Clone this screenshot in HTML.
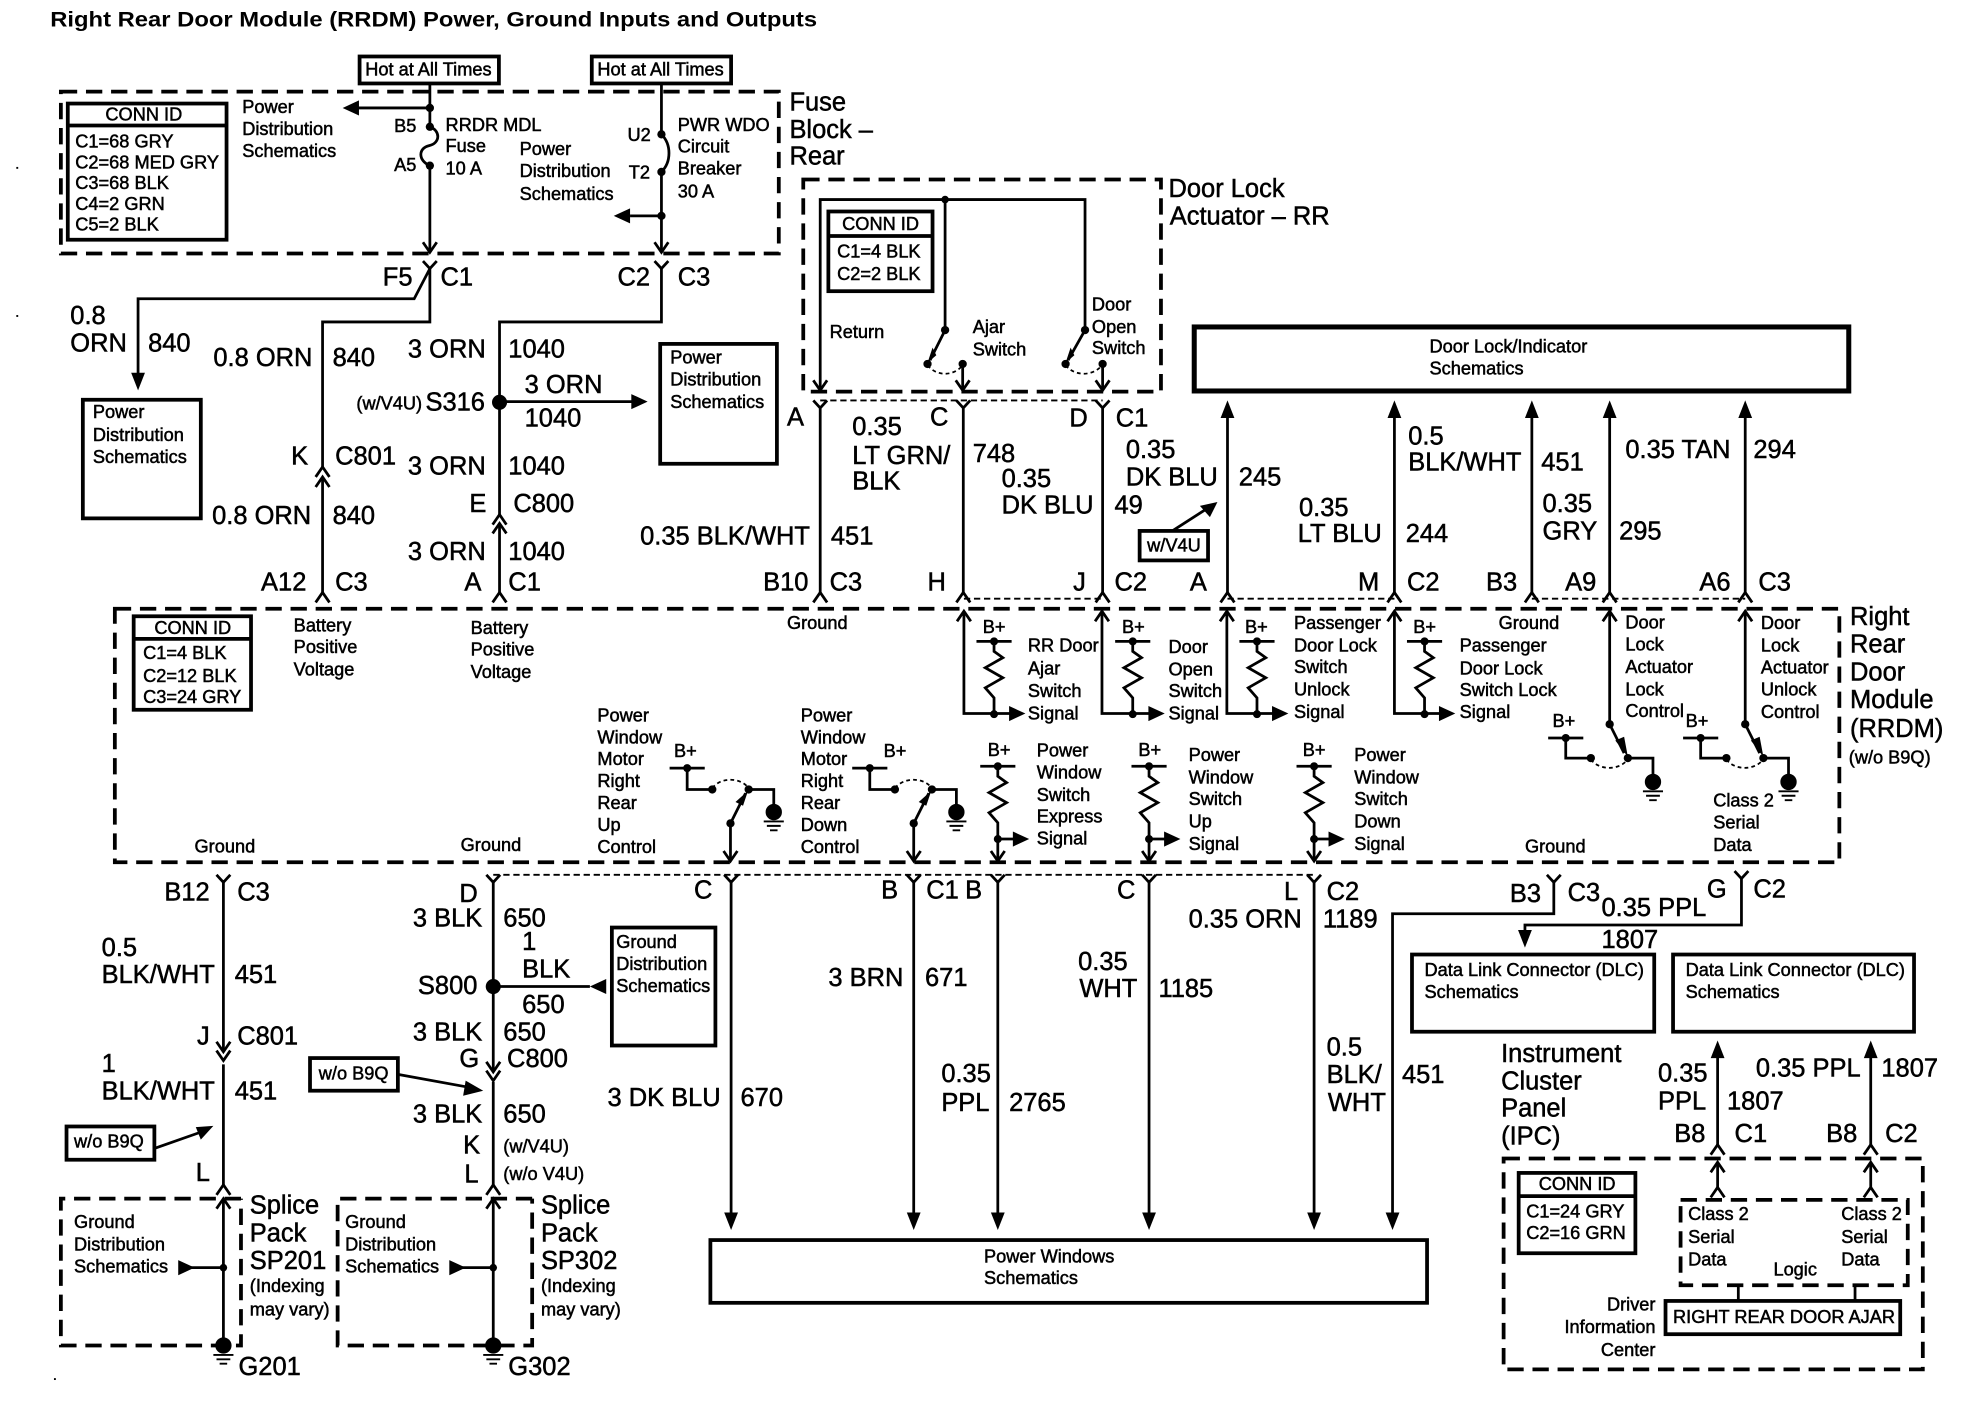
<!DOCTYPE html>
<html><head><meta charset="utf-8"><title>RRDM Power, Ground Inputs and Outputs</title>
<style>
html,body{margin:0;padding:0;background:#fff}
svg{display:block}
text{font-family:"Liberation Sans",sans-serif;fill:#000;stroke:#000;stroke-width:.4}
.s text,text.s{font-size:14.5px}
.b text,text.b{font-size:20.3px}
.w{fill:none;stroke:#000;stroke-width:2.2}
.d{fill:none;stroke:#000;stroke-width:3;stroke-dasharray:13 7}
.t{fill:none;stroke:#000;stroke-width:1.5;stroke-dasharray:5 3}
.q{fill:none;stroke:#000;stroke-width:1.4;stroke-dasharray:3 2.5}
.k{fill:#fff;stroke:#000;stroke-width:3}
</style></head><body>
<svg xmlns="http://www.w3.org/2000/svg" width="1968" height="1408" viewBox="0 0 1568 1121.8" preserveAspectRatio="none">
<defs>
<path id="fd" d="M0 0L-5.5 -14H5.5Z"/>
<path id="fu" d="M0 0L-5.5 14H5.5Z"/>
<path id="fr" d="M0 0L-13 -6V6Z"/>
<path id="fl" d="M0 0L13 -6V6Z"/>
<path id="od" class="w" d="M-5.5 -8L0 0L5.5 -8"/>
<path id="ou" class="w" d="M-5.5 8L0 0L5.5 8"/>
<g id="gnd"><circle r="6.5"/><path class="w" style="stroke-width:1.5" d="M-8 7.5H8M-5.5 11H5.5M-3 14.5H3"/></g>
<g id="res"><path class="w" d="M0 0V8L7 13L-7 21L7 29L-7 37L0 45V58"/><circle r="3.2"/><circle cy="58" r="3.2"/></g>
<path id="bar" class="w" d="M-14 0H14"/>
</defs>

<rect width="1568" height="1121.8" fill="#fff"/>

<!-- dashed enclosures -->
<rect class="d" x="48.5" y="73" width="572" height="129"/>
<rect class="d" x="640" y="143" width="285" height="169"/>
<rect class="d" x="91.5" y="485" width="1374" height="202"/>
<path class="d" d="M192 955H48.5V1072H192V955"/>
<path class="d" d="M424 955H269V1072H424V955"/>
<rect class="d" x="1198" y="923" width="334" height="168"/>
<rect class="d" x="1339" y="956" width="181" height="68"/>

<!-- thin connector shells -->
<path class="t" d="M653.5 319H878.5M768 477H878M978 477H1111M1220.5 477H1390.5M393 697H1047"/>

<!-- solid boxes -->
<rect class="k" x="286.5" y="45" width="111" height="21.5"/>
<rect class="k" x="471.5" y="45" width="111" height="21.5"/>
<rect class="k" x="54" y="82.5" width="126.5" height="108.5"/>
<path class="w" style="stroke-width:3" d="M54 100H180"/>
<rect class="k" x="660" y="168.5" width="83" height="63.5"/>
<path class="w" style="stroke-width:3" d="M660 188H743"/>
<rect class="k" x="66" y="318.5" width="94" height="94.5"/>
<rect class="k" x="526" y="274" width="93" height="95.5"/>
<rect class="k" style="stroke-width:4" x="951.5" y="260.5" width="521.5" height="51"/>
<rect class="k" x="908" y="423" width="54.5" height="23.5"/>
<rect class="k" x="106.5" y="491" width="93.5" height="74.5"/>
<path class="w" style="stroke-width:3" d="M106 509H200"/>
<rect class="k" x="487.5" y="739" width="82.5" height="94"/>
<rect class="k" x="53" y="897.5" width="70" height="26.5"/>
<rect class="k" x="247" y="843" width="70" height="26"/>
<rect class="k" x="566" y="988" width="571" height="50"/>
<rect class="k" x="1125" y="760.5" width="193" height="61.5"/>
<rect class="k" x="1333" y="760.5" width="192" height="61.5"/>
<rect class="k" x="1210" y="934.5" width="93" height="64"/>
<path class="w" style="stroke-width:3" d="M1210 953H1303"/>
<rect class="k" x="1327" y="1036.5" width="187" height="26.5"/>

<!-- wires: top section -->
<path class="w" d="M342.5 66V101C351 104 351 114 342 116C333 118 333 128 342.5 132V200M342.5 86H285"/>
<path class="w" d="M527 66V107C535 115 535 129 527 137V200M527 172H502"/>
<path class="w" d="M342.5 214V256.5H257V373M342.5 214L330 238H110V298"/>
<path class="w" d="M527 214V256.5H398V411M398 320H504"/>
<path class="w" d="M257 381V472M398 417V472"/>
<use href="#fl" x="273" y="86"/><use href="#fl" x="489" y="172"/>
<use href="#od" x="342.5" y="201"/><use href="#od" x="527" y="201"/>
<path class="w" d="M337 208L342.5 214L348 208"/>
<path class="w" d="M521.5 208L527 214L532.5 208"/>
<use href="#fd" x="110" y="311"/><use href="#fr" x="516" y="320"/>
<circle cx="398" cy="320.5" r="6"/>
<circle cx="342.5" cy="86" r="3.3"/><circle cx="342.5" cy="101" r="3.3"/><circle cx="342.5" cy="132" r="3.3"/>
<circle cx="527" cy="107" r="3.3"/><circle cx="527" cy="137" r="3.3"/><circle cx="527" cy="172" r="3.3"/>
<use href="#ou" x="257" y="372"/><use href="#ou" x="257" y="380"/><use href="#ou" x="398" y="410"/><use href="#ou" x="398" y="417"/>

<!-- door lock actuator -->
<path class="w" d="M653.5 310V159H864.5V263M753 159V263M753 263L741 287M864.5 263L851 287M767 290V311M878.5 290V311"/>
<circle cx="753" cy="159" r="3"/><circle cx="753" cy="263" r="3.3"/><circle cx="864.5" cy="263" r="3.3"/>
<circle cx="739" cy="290" r="3.3"/><circle cx="767" cy="290" r="3.3"/><circle cx="849" cy="290" r="3.3"/><circle cx="878.5" cy="290" r="3.3"/>
<path d="M739 289L743 277L746 283Z"/><path d="M849 289L853 277L856 283Z"/>
<path class="q" d="M739 291C746 300 760 300 767 291M849 291C856 300 871 300 878 291"/>
<use href="#od" x="653.5" y="311"/><use href="#od" x="767" y="311"/><use href="#od" x="878.5" y="311"/>
<path class="w" d="M648 319L653.5 325L659 319M762 319L767.5 325L773 319M873 319L878.5 325L884 319M653.5 325V472M767.5 325V472M878.5 325V472"/>

<!-- up arrows to door lock/indicator -->
<path class="w" d="M978 330V472M1111 330V472M1220.5 330V472M1282.5 330V472M1390.5 330V472"/>
<use href="#fu" x="978" y="319"/><use href="#fu" x="1111" y="319"/><use href="#fu" x="1220.5" y="319"/><use href="#fu" x="1282.5" y="319"/><use href="#fu" x="1390.5" y="319"/>
<use href="#ou" x="257" y="472"/><use href="#ou" x="398" y="472"/><use href="#ou" x="653.5" y="472"/><use href="#ou" x="767.5" y="472"/><use href="#ou" x="878.5" y="472"/><use href="#ou" x="978" y="472"/><use href="#ou" x="1111" y="472"/><use href="#ou" x="1220.5" y="472"/><use href="#ou" x="1282.5" y="472"/><use href="#ou" x="1390.5" y="472"/>
<path class="w" d="M934 423L962 405"/><path d="M970 400L956 403L964 412Z"/>

<!-- RRDM internals: pull-ups -->
<path class="w" d="M768 487V568.5H805M878 487V568.5H916M977.5 487V568.5H1015M1111 487V568.5H1148"/>
<use href="#ou" x="768" y="487"/><use href="#ou" x="878" y="487"/><use href="#ou" x="977.5" y="487"/><use href="#ou" x="1111" y="487"/>
<use href="#fr" x="817" y="568.5"/><use href="#fr" x="928" y="568.5"/><use href="#fr" x="1026.5" y="568.5"/><use href="#fr" x="1159.5" y="568.5"/>
<use href="#bar" x="792" y="511"/><use href="#res" x="792" y="511"/>
<use href="#bar" x="902.5" y="511"/><use href="#res" x="902.5" y="511"/>
<use href="#bar" x="1001.5" y="511"/><use href="#res" x="1001.5" y="511"/>
<use href="#bar" x="1135" y="511"/><use href="#res" x="1135" y="511"/>

<use href="#bar" x="795" y="610.5"/><use href="#res" x="795" y="610.5"/>
<use href="#bar" x="915.5" y="610.5"/><use href="#res" x="915.5" y="610.5"/>
<use href="#bar" x="1047" y="610.5"/><use href="#res" x="1047" y="610.5"/>
<path class="w" d="M795 668.5V686M915.5 668.5V686M915.5 668.5H929M1047 668.5V686M1047 668.5H1060M795 668.5H808"/>
<use href="#fr" x="820" y="668.5"/><use href="#fr" x="940.5" y="668.5"/><use href="#fr" x="1071.5" y="668.5"/>

<!-- window motor switches -->
<use href="#bar" x="547.5" y="612"/><circle cx="547.5" cy="612" r="3.2"/>
<path class="w" d="M547.5 612V629H567.5M596.5 629H616.5V645M582 656L594 632M582 656V686"/>
<circle cx="567.5" cy="629" r="3.3"/><circle cx="596.5" cy="629" r="3.3"/><circle cx="582" cy="656" r="3.3"/>
<path d="M596 630L586 639L592 642Z"/>
<path class="q" d="M567.5 628C574 619 590 619 596.5 628"/>
<use href="#gnd" x="616.5" y="647"/><use href="#od" x="582" y="686"/>
<use href="#bar" x="693" y="612"/><circle cx="693" cy="612" r="3.2"/>
<path class="w" d="M693 612V629H713M742.5 629H762V645M728 656L740 632M728 656V686"/>
<circle cx="713" cy="629" r="3.3"/><circle cx="742.5" cy="629" r="3.3"/><circle cx="728" cy="656" r="3.3"/>
<path d="M742 630L732 639L738 642Z"/>
<path class="q" d="M713 628C720 619 736 619 742.5 628"/>
<use href="#gnd" x="762" y="647"/><use href="#od" x="728" y="686"/>
<use href="#od" x="795" y="686"/><use href="#od" x="915.5" y="686"/><use href="#od" x="1047" y="686"/>

<!-- door lock actuator control switches -->
<path class="w" d="M1282.5 487V577L1294 600M1390.5 487V577L1402 600"/>
<use href="#ou" x="1282.5" y="487"/><use href="#ou" x="1390.5" y="487"/>
<circle cx="1282.5" cy="577" r="3.3"/><circle cx="1390.5" cy="577" r="3.3"/>
<path d="M1297 603L1287 590L1294 587Z"/><path d="M1405 603L1395 590L1402 587Z"/>
<use href="#bar" x="1247.5" y="588"/><circle cx="1247.5" cy="588" r="3.2"/>
<path class="w" d="M1247.5 588V604H1267.5M1297 604H1317V620"/>
<circle cx="1267.5" cy="604" r="3.3"/><circle cx="1297" cy="604" r="3.3"/>
<path class="q" d="M1267.5 605C1274 614 1290 614 1297 605"/>
<use href="#gnd" x="1317" y="623"/>
<use href="#bar" x="1355" y="588"/><circle cx="1355" cy="588" r="3.2"/>
<path class="w" d="M1355 588V604H1375.5M1405 604H1425V620"/>
<circle cx="1375.5" cy="604" r="3.3"/><circle cx="1405" cy="604" r="3.3"/>
<path class="q" d="M1375.5 605C1382 614 1398 614 1405 605"/>
<use href="#gnd" x="1425" y="623"/>

<!-- lower wires -->
<path class="w" d="M172.5 697L178 703L183.5 697M387.5 697L393 703L398.5 697M577 697L582.5 703L588 697M722.5 697L728 703L733.5 697M789.5 697L795 703L800.5 697M910 697L915.5 703L921 697M1041.5 697L1047 703L1052.5 697M1232.5 697L1238 703L1243.5 697M1382 694L1387.5 700L1393 694"/>
<path class="w" d="M178 703V838M178 848V944M178 955V1072M152 1010H178"/>
<path class="w" d="M393 703V853M393 862V945M393 955V1072M368 1010H393M393 786H470"/>
<path class="w" d="M582.5 703V968M728 703V968M795 703V968M915.5 703V968M1047 703V968"/>
<path class="w" d="M1238 703V728H1109.5V968M1387.5 700V737H1215V742"/>
<path class="w" d="M1368.5 840V912M1490.5 840V912M1368.5 926V947M1490.5 926V947M1385 1024V1036M1478 1024V1036"/>
<use href="#od" x="178" y="838"/><use href="#od" x="178" y="845"/><use href="#od" x="393" y="854"/><use href="#od" x="393" y="861"/>
<use href="#ou" x="178" y="944"/><use href="#ou" x="393" y="944"/><use href="#ou" x="178" y="955"/><use href="#ou" x="393" y="955"/>
<circle cx="393" cy="786" r="6"/><circle cx="178" cy="1010" r="3"/><circle cx="393" cy="1010" r="3"/>
<use href="#fl" x="470" y="786"/>
<use href="#fr" x="155" y="1010"/><use href="#fr" x="371" y="1010"/>
<use href="#gnd" x="178" y="1072"/><use href="#gnd" x="393" y="1072"/>
<use href="#fd" x="582.5" y="980"/><use href="#fd" x="728" y="980"/><use href="#fd" x="795" y="980"/><use href="#fd" x="915.5" y="980"/><use href="#fd" x="1047" y="980"/><use href="#fd" x="1109.5" y="980"/>
<use href="#fd" x="1215" y="755"/>
<use href="#fu" x="1368.5" y="829"/><use href="#fu" x="1490.5" y="829"/>
<use href="#ou" x="1368.5" y="912"/><use href="#ou" x="1490.5" y="912"/>
<use href="#ou" x="1368.5" y="926"/><use href="#ou" x="1490.5" y="926"/>
<use href="#ou" x="1368.5" y="946"/><use href="#ou" x="1490.5" y="946"/>
<path class="w" d="M123 915L160 902"/><path d="M170 897L156 898L160 908Z"/>
<path class="w" d="M317 856L372 866"/><path d="M385 869L371 861L369 873Z"/>
<rect x="13" y="133" width="1.5" height="1.5"/><rect x="13" y="251" width="1.5" height="1.5"/><rect x="43" y="1098" width="1.5" height="1.5"/>

<!-- title -->
<text x="40" y="21" font-size="17" font-weight="bold" textLength="611" lengthAdjust="spacingAndGlyphs" style="stroke:none">Right Rear Door Module (RRDM) Power, Ground Inputs and Outputs</text>

<!-- small text -->
<g class="s" transform="translate(0 -.8)">
<text x="291" y="61">Hot at All Times</text><text x="476" y="61">Hot at All Times</text>
<text x="84" y="97">CONN ID</text>
<text x="60" y="118.5">C1=68 GRY</text><text x="60" y="135">C2=68 MED GRY</text><text x="60" y="151.5">C3=68 BLK</text><text x="60" y="168">C4=2 GRN</text><text x="60" y="184.5">C5=2 BLK</text>
<text><tspan x="193" y="91">Power</tspan><tspan x="193" y="108.5">Distribution</tspan><tspan x="193" y="126">Schematics</tspan></text>
<text x="314" y="106">B5</text><text x="314" y="137">A5</text>
<text><tspan x="355" y="105">RRDR MDL</tspan><tspan x="355" y="122">Fuse</tspan><tspan x="355" y="140">10 A</tspan></text>
<text><tspan x="414" y="124.5">Power</tspan><tspan x="414" y="142">Distribution</tspan><tspan x="414" y="160">Schematics</tspan></text>
<text x="500" y="113">U2</text><text x="501" y="143">T2</text>
<text><tspan x="540" y="105">PWR WDO</tspan><tspan x="540" y="122.5">Circuit</tspan><tspan x="540" y="140">Breaker</tspan><tspan x="540" y="158">30 A</tspan></text>
<text x="671" y="184">CONN ID</text><text x="667" y="206">C1=4 BLK</text><text x="667" y="224">C2=2 BLK</text>
<text x="661" y="270">Return</text>
<text><tspan x="775" y="266">Ajar</tspan><tspan x="775" y="284">Switch</tspan></text>
<text><tspan x="870" y="248">Door</tspan><tspan x="870" y="266">Open</tspan><tspan x="870" y="283">Switch</tspan></text>
<text><tspan x="1139" y="281.5">Door Lock/Indicator</tspan><tspan x="1139" y="299">Schematics</tspan></text>
<text><tspan x="74" y="334">Power</tspan><tspan x="74" y="352">Distribution</tspan><tspan x="74" y="369.5">Schematics</tspan></text>
<text><tspan x="534" y="290.6">Power</tspan><tspan x="534" y="308">Distribution</tspan><tspan x="534" y="326">Schematics</tspan></text>
<text x="284" y="327">(w/V4U)</text>
<text x="914" y="440">w/V4U</text>
<text x="123" y="506">CONN ID</text><text x="114" y="526">C1=4 BLK</text><text x="114" y="544">C2=12 BLK</text><text x="114" y="561">C3=24 GRY</text>
<text><tspan x="234" y="504">Battery</tspan><tspan x="234" y="521">Positive</tspan><tspan x="234" y="539">Voltage</tspan></text>
<text><tspan x="375" y="506">Battery</tspan><tspan x="375" y="523">Positive</tspan><tspan x="375" y="541">Voltage</tspan></text>
<text x="627" y="502">Ground</text>
<text><tspan x="476" y="575.5">Power</tspan><tspan x="476" y="593">Window</tspan><tspan x="476" y="610.5">Motor</tspan><tspan x="476" y="628">Right</tspan><tspan x="476" y="645.5">Rear</tspan><tspan x="476" y="663">Up</tspan><tspan x="476" y="680.5">Control</tspan></text>
<text><tspan x="638" y="575.5">Power</tspan><tspan x="638" y="593">Window</tspan><tspan x="638" y="610.5">Motor</tspan><tspan x="638" y="628">Right</tspan><tspan x="638" y="645.5">Rear</tspan><tspan x="638" y="663">Down</tspan><tspan x="638" y="680.5">Control</tspan></text>
<text x="155" y="680">Ground</text><text x="367" y="679">Ground</text><text x="1215" y="680">Ground</text>
<text x="537" y="604">B+</text><text x="704" y="604">B+</text>
<text x="783" y="505">B+</text><text x="894" y="505">B+</text><text x="992" y="505">B+</text><text x="1126" y="505">B+</text>
<text x="787" y="603">B+</text><text x="907" y="603">B+</text><text x="1038" y="603">B+</text>
<text x="1237" y="580">B+</text><text x="1343" y="580">B+</text>
<text><tspan x="819" y="520">RR Door</tspan><tspan x="819" y="538">Ajar</tspan><tspan x="819" y="556">Switch</tspan><tspan x="819" y="574">Signal</tspan></text>
<text><tspan x="931" y="521">Door</tspan><tspan x="931" y="539">Open</tspan><tspan x="931" y="556">Switch</tspan><tspan x="931" y="574">Signal</tspan></text>
<text><tspan x="1031" y="502">Passenger</tspan><tspan x="1031" y="520">Door Lock</tspan><tspan x="1031" y="537">Switch</tspan><tspan x="1031" y="555">Unlock</tspan><tspan x="1031" y="573">Signal</tspan></text>
<text x="1194" y="502">Ground</text>
<text><tspan x="1163" y="520">Passenger</tspan><tspan x="1163" y="538">Door Lock</tspan><tspan x="1163" y="555.5">Switch Lock</tspan><tspan x="1163" y="573">Signal</tspan></text>
<text><tspan x="1295" y="501.5">Door</tspan><tspan x="1295" y="519">Lock</tspan><tspan x="1295" y="537">Actuator</tspan><tspan x="1295" y="555">Lock</tspan><tspan x="1295" y="572">Control</tspan></text>
<text><tspan x="1403" y="502">Door</tspan><tspan x="1403" y="520">Lock</tspan><tspan x="1403" y="537.5">Actuator</tspan><tspan x="1403" y="555">Unlock</tspan><tspan x="1403" y="573">Control</tspan></text>
<text><tspan x="1365" y="643.5">Class 2</tspan><tspan x="1365" y="661">Serial</tspan><tspan x="1365" y="679">Data</tspan></text>
<text><tspan x="826" y="603.5">Power</tspan><tspan x="826" y="621">Window</tspan><tspan x="826" y="639">Switch</tspan><tspan x="826" y="656">Express</tspan><tspan x="826" y="673.5">Signal</tspan></text>
<text><tspan x="947" y="607">Power</tspan><tspan x="947" y="625">Window</tspan><tspan x="947" y="642">Switch</tspan><tspan x="947" y="660">Up</tspan><tspan x="947" y="678">Signal</tspan></text>
<text><tspan x="1079" y="607">Power</tspan><tspan x="1079" y="625">Window</tspan><tspan x="1079" y="642">Switch</tspan><tspan x="1079" y="660">Down</tspan><tspan x="1079" y="678">Signal</tspan></text>
<text x="1473" y="609">(w/o B9Q)</text>
<text><tspan x="491" y="756">Ground</tspan><tspan x="491" y="773.5">Distribution</tspan><tspan x="491" y="791">Schematics</tspan></text>
<text x="59" y="915">w/o B9Q</text><text x="254" y="861">w/o B9Q</text>
<text x="401" y="919">(w/V4U)</text><text x="401" y="941">(w/o V4U)</text>
<text><tspan x="59" y="979">Ground</tspan><tspan x="59" y="997">Distribution</tspan><tspan x="59" y="1014.5">Schematics</tspan></text>
<text><tspan x="275" y="979">Ground</tspan><tspan x="275" y="997">Distribution</tspan><tspan x="275" y="1014.5">Schematics</tspan></text>
<text><tspan x="199" y="1030">(Indexing</tspan><tspan x="199" y="1049">may vary)</tspan></text>
<text><tspan x="431" y="1030">(Indexing</tspan><tspan x="431" y="1049">may vary)</tspan></text>
<text><tspan x="784" y="1006.5">Power Windows</tspan><tspan x="784" y="1024">Schematics</tspan></text>
<text><tspan x="1135" y="778.5">Data Link Connector (DLC)</tspan><tspan x="1135" y="796">Schematics</tspan></text>
<text><tspan x="1343" y="778.5">Data Link Connector (DLC)</tspan><tspan x="1343" y="796">Schematics</tspan></text>
<text x="1226" y="949">CONN ID</text><text x="1216" y="971">C1=24 GRY</text><text x="1216" y="988">C2=16 GRN</text>
<text><tspan x="1345" y="973">Class 2</tspan><tspan x="1345" y="991">Serial</tspan><tspan x="1345" y="1009">Data</tspan></text>
<text><tspan x="1467" y="973">Class 2</tspan><tspan x="1467" y="991">Serial</tspan><tspan x="1467" y="1009">Data</tspan></text>
<text x="1413" y="1017">Logic</text>
<text text-anchor="end"><tspan x="1319" y="1045">Driver</tspan><tspan x="1319" y="1063">Information</tspan><tspan x="1319" y="1081">Center</tspan></text>
<text x="1333" y="1055">RIGHT REAR DOOR AJAR</text>
</g>

<!-- large text -->
<g class="b" transform="translate(0 -1)">
<text><tspan x="629" y="89">Fuse</tspan><tspan x="629" y="111">Block –</tspan><tspan x="629" y="132">Rear</tspan></text>
<text><tspan x="931" y="158">Door Lock</tspan><tspan x="932" y="180">Actuator – RR</tspan></text>
<text x="305" y="228.5">F5</text><text x="351" y="228.5">C1</text><text x="492" y="228.5">C2</text><text x="540" y="228.5">C3</text>
<text x="56" y="259">0.8</text><text x="56" y="281">ORN</text><text x="118" y="281">840</text>
<text x="170" y="292.5">0.8 ORN</text><text x="265" y="292.5">840</text>
<text x="325" y="286">3 ORN</text><text x="405" y="286">1040</text>
<text x="339" y="328">S316</text>
<text x="418" y="314">3 ORN</text><text x="418" y="341">1040</text>
<text x="232" y="371">K</text><text x="267" y="371">C801</text>
<text x="325" y="379">3 ORN</text><text x="405" y="379">1040</text>
<text x="374" y="409">E</text><text x="409" y="409">C800</text>
<text x="169" y="418.5">0.8 ORN</text><text x="265" y="418.5">840</text>
<text x="325" y="447">3 ORN</text><text x="405" y="447">1040</text>
<text x="208" y="471.5">A12</text><text x="267" y="471.5">C3</text>
<text x="370" y="471.5">A</text><text x="405" y="471.5">C1</text>
<text x="510" y="435">0.35 BLK/WHT</text><text x="662" y="435">451</text>
<text x="608" y="471.5">B10</text><text x="661" y="471.5">C3</text><text x="739" y="471.5">H</text>
<text x="627" y="340">A</text><text x="741" y="340">C</text>
<text x="679" y="347.5">0.35</text><text x="679" y="370.5">LT GRN/</text><text x="679" y="391">BLK</text><text x="775" y="369">748</text>
<text x="798" y="389">0.35</text><text x="798" y="410">DK BLU</text><text x="888" y="410">49</text>
<text x="852" y="341">D</text><text x="889" y="341">C1</text>
<text x="897" y="366">0.35</text><text x="897" y="388">DK BLU</text><text x="987" y="388">245</text>
<text x="855" y="471.5">J</text><text x="888" y="471.5">C2</text><text x="948" y="471.5">A</text><text x="1082" y="471.5">M</text><text x="1121" y="471.5">C2</text><text x="1184" y="471.5">B3</text><text x="1247" y="471.5">A9</text><text x="1354" y="471.5">A6</text><text x="1401" y="471.5">C3</text>
<text x="1035" y="412">0.35</text><text x="1034" y="433">LT BLU</text><text x="1120" y="433">244</text>
<text x="1122" y="355">0.5</text><text x="1122" y="376">BLK/WHT</text><text x="1228" y="376">451</text>
<text x="1229" y="409">0.35</text><text x="1229" y="431">GRY</text><text x="1290" y="431">295</text>
<text x="1295" y="366">0.35 TAN</text><text x="1397" y="366">294</text>
<text><tspan x="1474" y="499">Right</tspan><tspan x="1474" y="521">Rear</tspan><tspan x="1474" y="543">Door</tspan><tspan x="1474" y="565">Module</tspan><tspan x="1474" y="588">(RRDM)</tspan></text>
<text x="131" y="718.5">B12</text><text x="189" y="718.5">C3</text>
<text x="81" y="762.5">0.5</text><text x="81" y="784">BLK/WHT</text><text x="187" y="784">451</text>
<text x="157" y="833">J</text><text x="189" y="833">C801</text>
<text x="81" y="855">1</text><text x="81" y="877">BLK/WHT</text><text x="187" y="877">451</text>
<text x="156" y="942">L</text>
<text><tspan x="199" y="968">Splice</tspan><tspan x="199" y="990">Pack</tspan><tspan x="199" y="1012">SP201</tspan></text>
<text x="190" y="1096.5">G201</text>
<text x="366" y="719.5">D</text><text x="329" y="739">3 BLK</text><text x="401" y="739">650</text>
<text x="416" y="758">1</text><text x="416" y="780">BLK</text><text x="333" y="793">S800</text><text x="416" y="808">650</text>
<text x="329" y="830">3 BLK</text><text x="401" y="830">650</text>
<text x="366" y="851">G</text><text x="404" y="851">C800</text>
<text x="329" y="895.5">3 BLK</text><text x="401" y="895.5">650</text>
<text x="369" y="920">K</text><text x="370" y="943">L</text>
<text><tspan x="431" y="968">Splice</tspan><tspan x="431" y="990">Pack</tspan><tspan x="431" y="1012">SP302</tspan></text>
<text x="405" y="1096.5">G302</text>
<text x="553" y="717">C</text><text x="484" y="882">3 DK BLU</text><text x="590" y="882">670</text>
<text x="702" y="717">B</text><text x="738" y="717">C1</text><text x="769" y="717">B</text>
<text x="660" y="786.5">3 BRN</text><text x="737" y="786.5">671</text>
<text x="750" y="863">0.35</text><text x="750" y="886">PPL</text><text x="804" y="886">2765</text>
<text x="890" y="717">C</text><text x="859" y="774">0.35</text><text x="860" y="795.5">WHT</text><text x="923" y="795.5">1185</text>
<text x="1023" y="718">L</text><text x="1057" y="718">C2</text>
<text x="947" y="740">0.35 ORN</text><text x="1054" y="740">1189</text>
<text x="1057" y="842">0.5</text><text x="1057" y="864">BLK/</text><text x="1058" y="886">WHT</text><text x="1117" y="864">451</text>
<text x="1203" y="719.5">B3</text><text x="1249" y="719">C3</text>
<text x="1276" y="731">0.35 PPL</text><text x="1276" y="756.5">1807</text>
<text x="1360" y="716">G</text><text x="1397" y="716">C2</text>
<text><tspan x="1196" y="847">Instrument</tspan><tspan x="1196" y="869">Cluster</tspan><tspan x="1196" y="890.5">Panel</tspan><tspan x="1196" y="913">(IPC)</tspan></text>
<text x="1321" y="862.5">0.35</text><text x="1321" y="885">PPL</text><text x="1376" y="885">1807</text>
<text x="1399" y="858.5">0.35 PPL</text><text x="1499" y="858.5">1807</text>
<text x="1334" y="911">B8</text><text x="1382" y="911">C1</text><text x="1455" y="911">B8</text><text x="1502" y="911">C2</text>
</g>
</svg>
</body></html>
